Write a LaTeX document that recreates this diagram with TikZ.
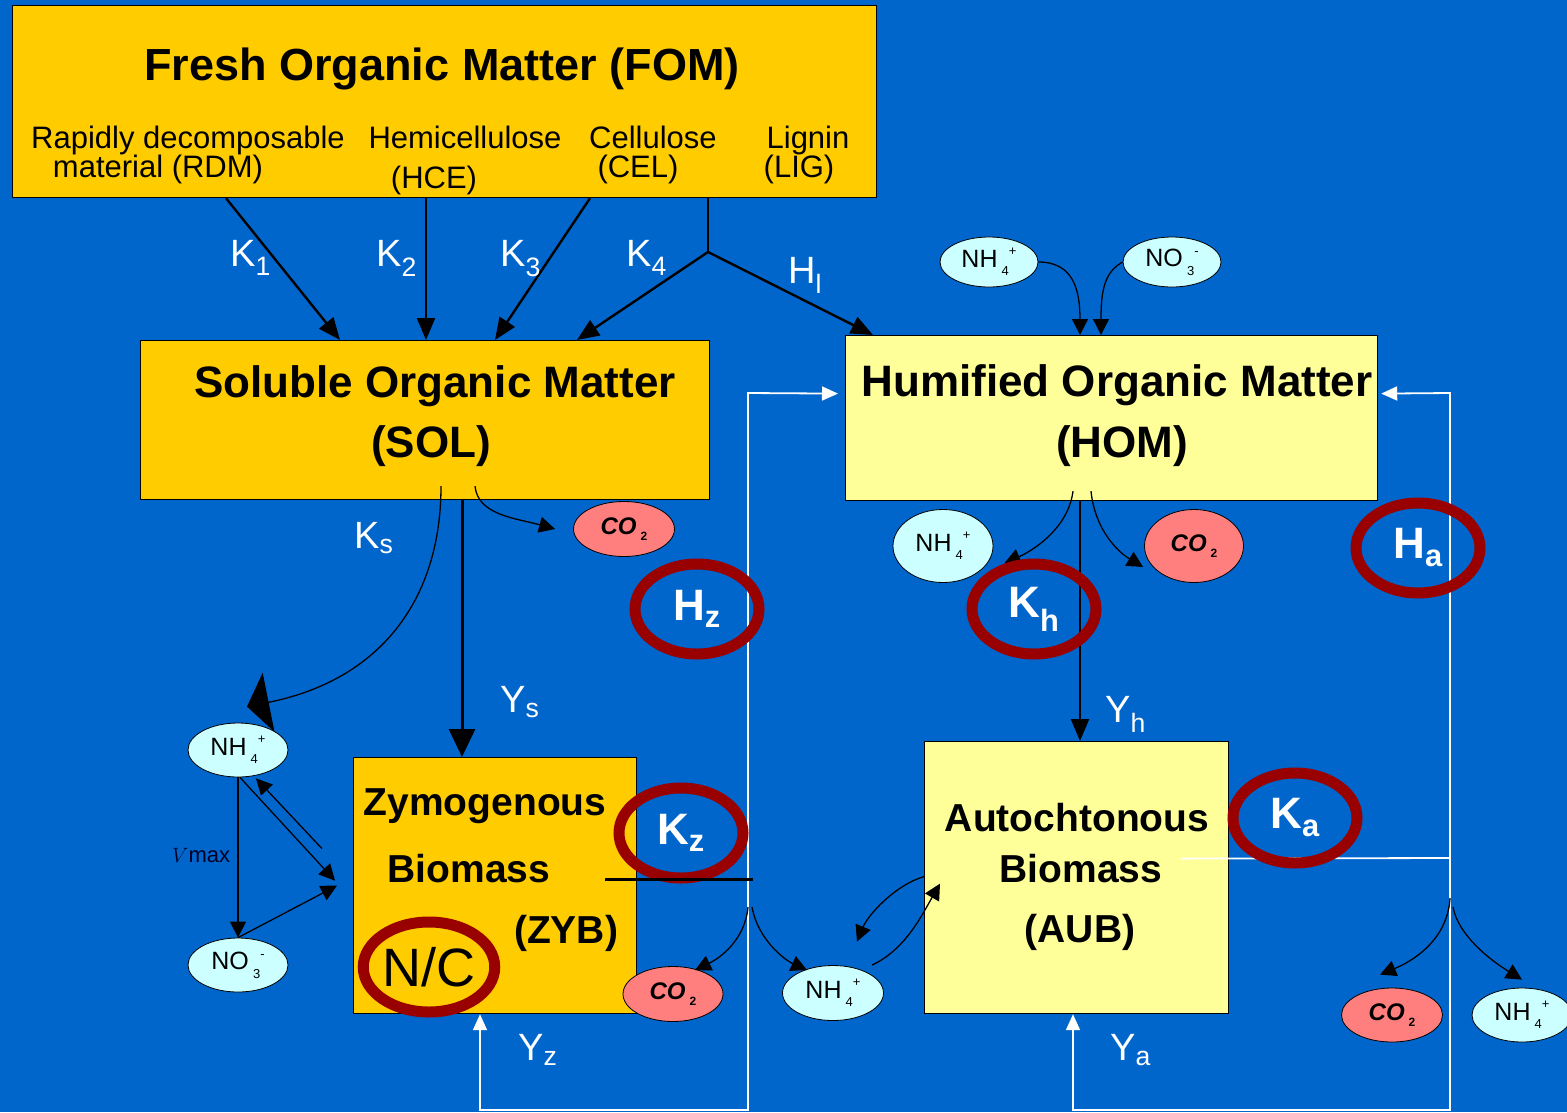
\documentclass[tikz,border=0pt]{standalone}
\usepackage{fontspec}
\setmainfont{Liberation Sans}
\usetikzlibrary{arrows.meta,shapes.geometric}
\definecolor{bgblue}{HTML}{0066CC}
\definecolor{fomc}{HTML}{FFCC00}
\definecolor{homc}{HTML}{FFFF99}
\definecolor{ionc}{HTML}{CCFFFF}
\definecolor{gasc}{HTML}{FF7F7F}
\definecolor{ringc}{HTML}{990000}
\newcommand\fTitle{\fontsize{45}{50}\selectfont\bfseries}
\newcommand\fBox{\fontsize{44}{48}\selectfont\bfseries}
\newcommand\fBio{\fontsize{39}{44}\selectfont\bfseries}
\newcommand\fSub{\fontsize{31}{36}\selectfont}
\newcommand\fLbl{\fontsize{38}{42}\selectfont}
\newcommand\fIon{\fontsize{25}{28}\selectfont}
\newcommand\fGas{\fontsize{24}{28}\selectfont\bfseries\itshape}
\newcommand\fRing{\fontsize{44}{48}\selectfont\bfseries}
\newcommand\nhf{NH\,\raisebox{-0.35em}{\fontsize{13}{14}\selectfont 4}\raisebox{0.45em}{\fontsize{13}{14}\selectfont +}}
\newcommand\nof{NO\,\raisebox{-0.35em}{\fontsize{13}{14}\selectfont 3}\raisebox{0.45em}{\fontsize{13}{14}\selectfont -}}
\newcommand\cof{CO\,\raisebox{-0.25em}{\upshape\fontsize{12}{13}\selectfont 2}}
\begin{document}
\begin{tikzpicture}[x=1pt,y=-1pt,
  box/.style={draw=black, line width=1.2pt, anchor=north west, inner sep=0pt},
  ion/.style={ellipse, draw=black, line width=0.8pt, fill=ionc, inner sep=0pt, font=\fIon},
  gas/.style={ellipse, draw=black, line width=0.8pt, fill=gasc, inner sep=0pt, font=\fGas},
  ring/.style={ellipse, draw=ringc, line width=11pt, minimum width=124pt, minimum height=90pt, inner sep=0pt, text=white, font=\fRing},
  lbl/.style={text=white, font=\fLbl, anchor=base west, inner sep=0pt},
  btxt/.style={anchor=base, inner sep=0pt},
  flow/.style={draw=black, line width=2.4pt, -{Triangle[length=22pt,width=18pt]}},
  bigflow/.style={draw=black, line width=3pt, -{Triangle[length=28pt,width=26pt]}},
  thinarr/.style={draw=black, line width=1.3pt, -{Triangle[length=16pt,width=16pt]}},
  wline/.style={draw=white, line width=1.8pt},
  warrow/.style={draw=white, line width=1.8pt, -{Triangle[length=16pt,width=14pt]}},
]
\fill[bgblue] (0,0) rectangle (1567,1112);
\useasboundingbox (0,0) rectangle (1567,1112);

% ---------- boxes ----------
\node[box, fill=fomc, minimum width=864pt, minimum height=192pt] (fom) at (12,5) {};
\node[box, fill=fomc, minimum width=569pt, minimum height=159pt] (sol) at (140,340) {};
\node[box, fill=homc, minimum width=532pt, minimum height=165pt] (hom) at (845,335) {};
\node[box, fill=fomc, minimum width=283pt, minimum height=256pt] (zyb) at (353,757) {};
\node[box, fill=homc, minimum width=304pt, minimum height=272pt] (aub) at (924,741) {};

% ---------- box texts ----------
\node[btxt, font=\fTitle] (tfom) at (442,80) {Fresh Organic Matter (FOM)};
\node[btxt, font=\fSub] (trdm1) at (188,148) {Rapidly decomposable};
\node[btxt, font=\fSub] (trdm2) at (158,177) {material (RDM)};
\node[btxt, font=\fSub] (thce1) at (465,148) {Hemicellulose};
\node[btxt, font=\fSub] (thce2) at (434,188) {(HCE)};
\node[btxt, font=\fSub] (tcel1) at (653,148) {Cellulose};
\node[btxt, font=\fSub] (tcel2) at (638,177) {(CEL)};
\node[btxt, font=\fSub] (tlig1) at (808,148) {Lignin};
\node[btxt, font=\fSub] (tlig2) at (799,177) {(LIG)};

\node[btxt, font=\fBox] (tsol1) at (435,397) {Soluble Organic Matter};
\node[btxt, font=\fBox] (tsol2) at (431,457) {(SOL)};
\node[btxt, font=\fBox] (thom1) at (1117,396) {Humified Organic Matter};
\node[btxt, font=\fBox] (thom2) at (1122,457) {(HOM)};

\node[btxt, font=\fBio] (tzyb1) at (485,815) {Zymogenous};
\node[btxt, font=\fBio] (tzyb2) at (469,882) {Biomass};
\node[btxt, font=\fBio] (tzyb3) at (566,943) {(ZYB)};
\node[btxt, font=\fBio] (taub1) at (1077,831) {Autochtonous};
\node[btxt, font=\fBio] (taub2) at (1081,882) {Biomass};
\node[btxt, font=\fBio] (taub3) at (1080,942) {(AUB)};

% ---------- ions ----------
\node[ion, minimum width=98pt, minimum height=50pt] (nhA) at (989,262) {\nhf};
\node[ion, minimum width=98pt, minimum height=50pt] (noA) at (1172,262) {\nof};
\node[gas, minimum width=101pt, minimum height=55pt] (coS) at (624,529) {\cof};
\node[ion, minimum width=100pt, minimum height=73pt] (nhH) at (943,546) {\nhf};
\node[gas, minimum width=99pt, minimum height=73pt] (coH) at (1194,546) {\cof};
\node[ion, minimum width=100pt, minimum height=54pt] (nhL) at (238,750) {\nhf};
\node[ion, minimum width=100pt, minimum height=54pt] (noL) at (238,965) {\nof};
\node[gas, minimum width=100pt, minimum height=55pt] (coZ) at (673,994) {\cof};
\node[ion, minimum width=101pt, minimum height=55pt] (nhB) at (833,993) {\nhf};
\node[gas, minimum width=101pt, minimum height=54pt] (coR) at (1392,1015) {\cof};
\node[ion, minimum width=100pt, minimum height=54pt] (nhR) at (1522,1015) {\nhf};

% ---------- FOM decomposition ----------
\coordinate (split) at (708,252);
\draw[flow] ([xshift=214pt]fom.south west) -- ([xshift=200pt]sol.north west);
\draw[flow] ([xshift=414pt]fom.south west) -- ([xshift=286pt]sol.north west);
\draw[flow] ([xshift=578pt]fom.south west) -- ([xshift=355pt]sol.north west);
\draw[draw=black, line width=2.4pt] ([xshift=696pt]fom.south west) -- (split);
\draw[flow] (split) -- ([xshift=437pt]sol.north west);
\draw[flow] (split) -- ([xshift=28pt]hom.north west);

\node[lbl] (lk1) at (230,266) {K\textsubscript{1}};
\node[lbl] (lk2) at (376,266) {K\textsubscript{2}};
\node[lbl] (lk3) at (500,266) {K\textsubscript{3}};
\node[lbl] (lk4) at (626,266) {K\textsubscript{4}};
\node[lbl] (lhl) at (788,283) {H\textsubscript{l}};

% ---------- ions into HOM ----------
\draw[thinarr] (nhA.east) .. controls +(35,0) and +(0,-45) .. ([xshift=235pt]hom.north west);
\draw[thinarr] (noA.west) .. controls +(-18,10) and +(0,-45) .. ([xshift=256pt]hom.north west);

% ---------- SOL outflows ----------
\draw[bigflow] ([xshift=322pt]sol.south west) -- ([xshift=109pt]zyb.north west);
\draw[draw=black, line width=1.3pt, -{Triangle[length=22pt,width=60pt]}]
  ([xshift=301pt,yshift=14pt]sol.south west) .. controls (441,600) and (380,680) .. ([xshift=9pt,yshift=16pt]nhL.north);
\draw[thinarr] ([xshift=335pt,yshift=14pt]sol.south west) .. controls (478,515) and (515,518) .. ([xshift=-18pt]coS.west);
\node[lbl] (lks) at (354,548) {K\textsubscript{s}};
\node[lbl] (lys) at (500,712) {Y\textsubscript{s}};

% ---------- left N cycle ----------
\draw[thinarr] (nhL.south) -- (noL.north);
\draw[thinarr] ([xshift=2pt]nhL.south) -- ([xshift=-18pt,yshift=5pt]zyb.west);
\draw[thinarr] ([xshift=-31pt,yshift=37pt]zyb.west) -- ([xshift=18pt,yshift=-1pt]nhL.south);
\draw[thinarr] (noL.north) -- ([xshift=-16pt]zyb.west);
\node[anchor=base west, inner sep=0pt, font=\fontsize{22}{26}\selectfont, text=black!85!blue] (lvmax) at (172,862) {$V$max};

% ---------- HOM outflows ----------
\draw[flow] ([xshift=235pt]hom.south west) -- ([xshift=156pt]aub.north west);
\draw[thinarr] ([xshift=228pt,yshift=10pt]hom.south west) .. controls (1068,530) and (1030,552) .. ([xshift=11pt,yshift=-17pt]nhH.east);
\draw[thinarr] ([xshift=246pt,yshift=10pt]hom.south west) .. controls (1095,530) and (1118,552) .. ([xshift=-1pt,yshift=-21pt]coH.west);
\node[lbl] (lyh) at (1105,722) {Y\textsubscript{h}};

% ---------- white recycling lines ----------
\coordinate (zj) at (748,879);
\coordinate (zt) at (748,393);
\coordinate (zb) at (748,1110);
\coordinate (zbl) at (480,1110);
\draw[warrow] (zj) -- (zt) -- ([xshift=-7pt,yshift=24.5pt]hom.west);
\draw[warrow] (zj) -- (zb) -- (zbl) -- ([xshift=127pt]zyb.south west);
\coordinate (aj) at (1450,858);
\coordinate (at) at (1450,393);
\coordinate (ab) at (1450,1110);
\coordinate (abl) at (1073,1110);
\draw[wline] ([xshift=-48pt,yshift=19pt]aub.east) -- (aj);
\draw[warrow] (aj) -- (at) -- ([xshift=3pt,yshift=24.5pt]hom.east);
\draw[warrow] (aj) -- (ab) -- (abl) -- ([xshift=149pt]aub.south west);
\node[lbl] (lyz) at (518,1060) {Y\textsubscript{z}};
\node[lbl] (lya) at (1110,1060) {Y\textsubscript{a}};

% ---------- ZYB / AUB exchanges ----------
\coordinate (zo1) at (748,907);
\coordinate (zo2) at (752,907);
\draw[thinarr] (zo1) .. controls (745,940) and (720,958) .. ([xshift=22pt,yshift=-4pt]coZ.north);
\draw[thinarr] (zo2) .. controls (758,940) and (785,960) .. ([xshift=-26pt,yshift=-5pt]nhB.north);
\draw[thinarr] ([xshift=39pt,yshift=28pt]nhB.center) .. controls (905,950) and (922,915) .. ([xshift=16pt,yshift=-6pt]aub.west);
\draw[thinarr] ([yshift=1pt]aub.west) .. controls (895,885) and (868,915) .. ([xshift=24pt,yshift=23.5pt]nhB.north);
\coordinate (ao1) at (1450,898);
\coordinate (ao2) at (1453,907);
\draw[thinarr] (ao1) .. controls (1448,935) and (1420,958) .. ([xshift=-12pt,yshift=13pt]coR.north);
\draw[thinarr] (ao2) .. controls (1458,935) and (1490,960) .. ([yshift=8pt]nhR.north);

% ---------- highlighted parameters ----------
\node[ring] (rhz) at (697,609) {H\textsubscript{z}};
\node[ring] (rkh) at (1034,609) {K\textsubscript{h}};
\node[ring] (rha) at (1418,548) {H\textsubscript{a}};
\node[ring] (rkz) at (681,833) {K\textsubscript{z}};
\node[ring] (rka) at (1295,818) {K\textsubscript{a}};
\node[ring, text=black, font=\fontsize{54}{58}\selectfont] (rnc) at (429,967) {N/C};

\draw[draw=black, line width=2.4pt] ([xshift=252pt,yshift=6pt]zyb.west) -- ([xshift=400pt,yshift=6pt]zyb.west);
\end{tikzpicture}
\end{document}
